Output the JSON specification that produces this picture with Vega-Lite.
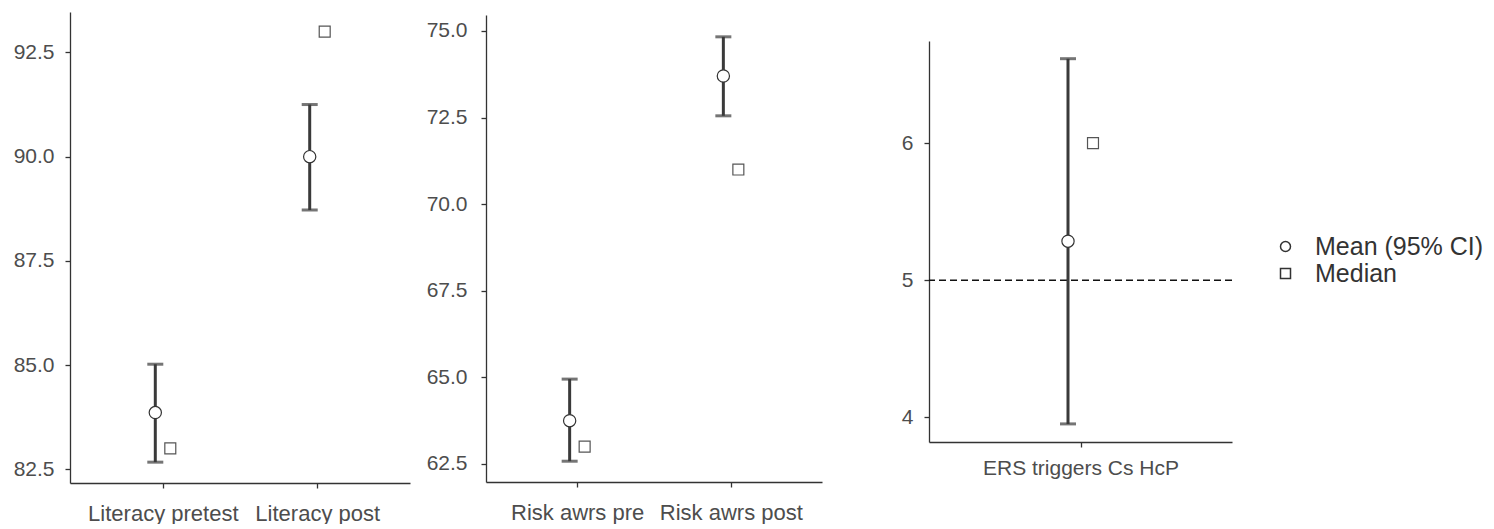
{
  "$schema": "https://vega.github.io/schema/vega-lite/v6.json",
  "padding": {"left": 13, "top": 12, "right": 0, "bottom": 0},
  "background": "white",
  "config": {
    "font": "Liberation Sans",
    "view": {"stroke": null},
    "axis": {"domainColor": "#333333", "domainWidth": 1.3, "tickColor": "#333333", "tickWidth": 1.3, "tickSize": 5, "labelFontSize": 21, "labelColor": "#4d4d4d", "labelFont": "Liberation Sans", "labelLimit": 400, "grid": false, "title": null},
    "legend": {"orient": "none", "legendX": 1203, "legendY": 222, "labelFontSize": 25, "labelColor": "#333333", "labelFont": "Liberation Sans", "labelLimit": 400, "symbolSize": 100, "labelOffset": 17, "rowPadding": 1, "padding": 0}
  },
  "resolve": {"scale": {"shape": "shared"}, "legend": {"shape": "shared"}},
  "spacing": 79,
  "hconcat": [
    {
      "spacing": 16,
      "resolve": {"scale": {"shape": "shared"}, "legend": {"shape": "shared"}},
      "hconcat": [
        {
          "width": 340, "height": 471,
          "data": {"values": [
            {"var": "Literacy pretest", "mean": 83.86, "lo": 82.67, "hi": 85.02, "median": 83.0},
            {"var": "Literacy post", "mean": 90.0, "lo": 88.72, "hi": 91.25, "median": 93.0}
          ]},
          "encoding": {"x": {"field": "var", "type": "nominal", "sort": null, "scale": {"type": "point", "padding": 0.601}, "axis": {"labelAngle": 0, "labelPadding": 15, "labelFontSize": 22}}},
          "layer": [
            {"mark": {"type": "rule", "strokeWidth": 3, "color": "#3a3a3a", "xOffset": -7.5},
             "encoding": {"y": {"field": "lo", "type": "quantitative", "scale": {"domain": [82.17, 93.47], "nice": false, "zero": false}, "axis": {"values": [82.5, 85, 87.5, 90, 92.5], "format": ".1f", "labelPadding": 11}}, "y2": {"field": "hi"}}},
            {"mark": {"type": "tick", "thickness": 3, "size": 16, "color": "#3a3a3a", "xOffset": -7.5}, "encoding": {"y": {"field": "lo", "type": "quantitative"}}},
            {"mark": {"type": "tick", "thickness": 3, "size": 16, "color": "#3a3a3a", "xOffset": -7.5}, "encoding": {"y": {"field": "hi", "type": "quantitative"}}},
            {"mark": {"type": "point", "filled": true, "fill": "white", "stroke": "#333333", "strokeWidth": 1.2, "size": 150, "opacity": 1, "xOffset": -7.5},
             "encoding": {"y": {"field": "mean", "type": "quantitative"}, "shape": {"datum": "Mean (95% CI)", "type": "nominal", "scale": {"domain": ["Mean (95% CI)", "Median"], "range": ["circle", "square"]}, "legend": {"title": null, "encode": {"symbols": {"update": {"fill": {"value": "white"}, "stroke": {"value": "#444444"}, "strokeWidth": {"value": 1}, "opacity": {"value": 1}}}}}}}},
            {"mark": {"type": "point", "filled": true, "fill": "white", "stroke": "#555555", "strokeWidth": 1.2, "size": 120, "opacity": 1, "xOffset": 7.5},
             "encoding": {"y": {"field": "median", "type": "quantitative"}, "shape": {"datum": "Median", "type": "nominal"}}}
          ]
        },
        {
          "spacing": 0,
          "vconcat": [
            {"width": 336, "height": 3, "data": {"values": []}, "mark": {"type": "point", "opacity": 0}},
            {
              "width": 336, "height": 467,
              "data": {"values": [
                {"var": "Risk awrs pre", "mean": 63.75, "lo": 62.58, "hi": 64.95, "median": 63.0},
                {"var": "Risk awrs post", "mean": 73.7, "lo": 72.55, "hi": 74.83, "median": 71.0}
              ]},
              "encoding": {"x": {"field": "var", "type": "nominal", "sort": null, "scale": {"type": "point", "padding": 0.593}, "axis": {"labelAngle": 0, "labelPadding": 15, "labelFontSize": 22}}},
              "layer": [
                {"mark": {"type": "rule", "strokeWidth": 3, "color": "#3a3a3a", "xOffset": -7.5},
                 "encoding": {"y": {"field": "lo", "type": "quantitative", "scale": {"domain": [61.98, 75.46], "nice": false, "zero": false}, "axis": {"values": [62.5, 65, 67.5, 70, 72.5, 75], "format": ".1f", "labelPadding": 14}}, "y2": {"field": "hi"}}},
                {"mark": {"type": "tick", "thickness": 3, "size": 16, "color": "#3a3a3a", "xOffset": -7.5}, "encoding": {"y": {"field": "lo", "type": "quantitative"}}},
                {"mark": {"type": "tick", "thickness": 3, "size": 16, "color": "#3a3a3a", "xOffset": -7.5}, "encoding": {"y": {"field": "hi", "type": "quantitative"}}},
                {"mark": {"type": "point", "filled": true, "fill": "white", "stroke": "#333333", "strokeWidth": 1.2, "size": 150, "opacity": 1, "xOffset": -7.5},
                 "encoding": {"y": {"field": "mean", "type": "quantitative"}, "shape": {"datum": "Mean (95% CI)", "type": "nominal"}}},
                {"mark": {"type": "point", "filled": true, "fill": "white", "stroke": "#555555", "strokeWidth": 1.2, "size": 120, "opacity": 1, "xOffset": 7.5},
                 "encoding": {"y": {"field": "median", "type": "quantitative"}, "shape": {"datum": "Median", "type": "nominal"}}}
              ]
            }
          ]
        }
      ]
    },
    {
      "spacing": 0,
      "vconcat": [
        {"width": 303, "height": 28.7, "data": {"values": []}, "mark": {"type": "point", "opacity": 0}},
        {
          "width": 303, "height": 401,
          "data": {"values": [
            {"var": "ERS triggers Cs HcP", "mean": 5.285, "lo": 3.952, "hi": 6.616, "median": 6.0}
          ]},
          "layer": [
            {"mark": {"type": "rule", "strokeWidth": 1.5, "color": "#111111", "strokeDash": [7, 4]}, "encoding": {"y": {"datum": 5, "type": "quantitative"}}},
            {"mark": {"type": "rule", "strokeWidth": 3, "color": "#3a3a3a", "xOffset": -12.5},
             "encoding": {"x": {"field": "var", "type": "nominal", "sort": null, "scale": {"type": "point", "padding": 0.5}, "axis": {"labelAngle": 0, "labelPadding": 10}}, "y": {"field": "lo", "type": "quantitative", "scale": {"domain": [3.82, 6.745], "nice": false, "zero": false}, "axis": {"values": [4, 5, 6], "format": "d", "labelPadding": 11}}, "y2": {"field": "hi"}}},
            {"mark": {"type": "tick", "thickness": 3, "size": 16, "color": "#3a3a3a", "xOffset": -12.5}, "encoding": {"x": {"field": "var", "type": "nominal", "sort": null}, "y": {"field": "lo", "type": "quantitative"}}},
            {"mark": {"type": "tick", "thickness": 3, "size": 16, "color": "#3a3a3a", "xOffset": -12.5}, "encoding": {"x": {"field": "var", "type": "nominal", "sort": null}, "y": {"field": "hi", "type": "quantitative"}}},
            {"mark": {"type": "point", "filled": true, "fill": "white", "stroke": "#333333", "strokeWidth": 1.2, "size": 150, "opacity": 1, "xOffset": -12.5},
             "encoding": {"x": {"field": "var", "type": "nominal", "sort": null}, "y": {"field": "mean", "type": "quantitative"}, "shape": {"datum": "Mean (95% CI)", "type": "nominal"}}},
            {"mark": {"type": "point", "filled": true, "fill": "white", "stroke": "#555555", "strokeWidth": 1.2, "size": 120, "opacity": 1, "xOffset": 12.5},
             "encoding": {"x": {"field": "var", "type": "nominal", "sort": null}, "y": {"field": "median", "type": "quantitative"}, "shape": {"datum": "Median", "type": "nominal"}}}
          ]
        }
      ]
    }
  ]
}
